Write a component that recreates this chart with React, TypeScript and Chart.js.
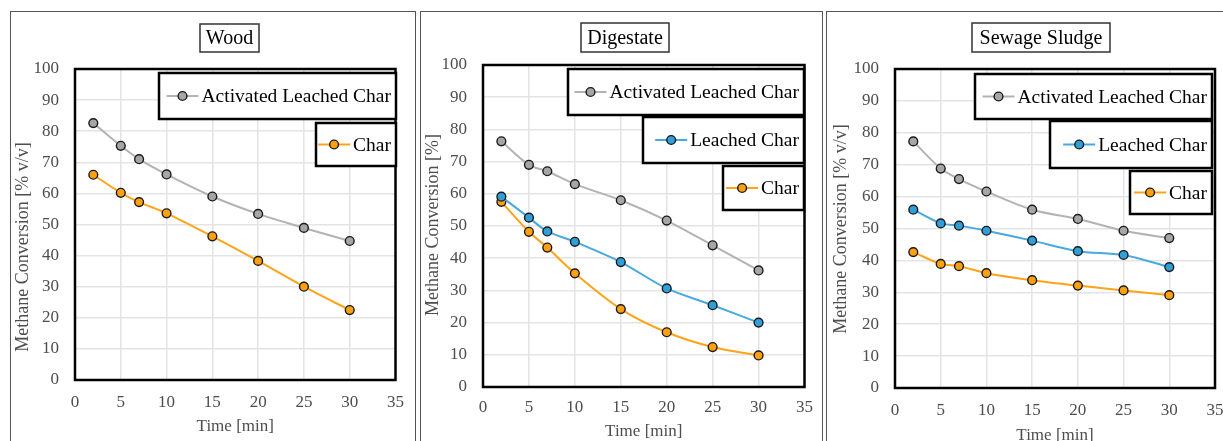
import React, { useEffect, useRef } from 'react';
import { Chart, registerables } from 'chart.js';

Chart.register(...registerables);

// ---------------- data ----------------
const timeMin = [2, 5, 7, 10, 15, 20, 25, 30];

const woodActivated = [82.6, 75.3, 71.0, 66.1, 59.0, 53.4, 48.9, 44.7];
const woodChar = [66.0, 60.2, 57.2, 53.6, 46.2, 38.3, 30.0, 22.5];

const digActivated = [76.3, 69.0, 67.0, 63.0, 58.0, 51.7, 44.0, 36.2];
const digLeached = [59.1, 52.6, 48.3, 45.1, 38.8, 30.6, 25.4, 20.0];
const digChar = [57.5, 48.2, 43.3, 35.3, 24.2, 17.0, 12.4, 9.8];

const sewActivated = [77.3, 68.8, 65.5, 61.6, 55.9, 53.0, 49.3, 47.0];
const sewLeached = [55.9, 51.6, 50.9, 49.3, 46.2, 42.9, 41.7, 37.9];
const sewChar = [42.6, 38.9, 38.2, 36.0, 33.8, 32.1, 30.6, 29.1];

const panelTitles = ['Wood', 'Digestate', 'Sewage Sludge'];
const seriesNames = ['Activated Leached Char', 'Leached Char', 'Char'];
const yTitles = ['Methane Conversion [% v/v]', 'Methane Conversion [%]', 'Methane Conversion [% v/v]'];
const xTitle = 'Time [min]';

// ---------------- styles ----------------
const FONT = "'Liberation Serif', 'Times New Roman', serif";
const seriesStyle = [
  { line: '#b3b3b3', fill: '#a6a6a6' },
  { line: '#46a9df', fill: '#2f9fd9' },
  { line: '#ffa318', fill: '#ffa010' },
];

type Box = [number, number, number, number];
interface PanelCfg {
  title: string;
  yTitle: string;
  series: { name: string; values: number[]; style: number }[];
  canvas: { left: number; top: number; w: number; h: number };
  plot: { l: number; r: number; t: number; b: number };
  titleBox: Box;
  legendBoxes: Box[];
  yTitleX: number;
  yTitleY: number;
  xTitleFromBottom: number;
  xTickPad: number;
}

const panels: PanelCfg[] = [
  {
    title: panelTitles[0],
    yTitle: yTitles[0],
    series: [
      { name: seriesNames[0], values: woodActivated, style: 0 },
      { name: seriesNames[2], values: woodChar, style: 2 },
    ],
    canvas: { left: 10, top: 11, w: 406, h: 439 },
    plot: { l: 75, r: 400, t: 69, b: 380 },
    titleBox: [200, 24, 259, 52],
    legendBoxes: [
      [159, 73, 396, 119],
      [316, 123, 396, 166],
    ],
    yTitleX: 23,
    yTitleY: 247,
    xTitleFromBottom: 23,
    xTickPad: 12,
  },
  {
    title: panelTitles[1],
    yTitle: yTitles[1],
    series: [
      { name: seriesNames[0], values: digActivated, style: 0 },
      { name: seriesNames[1], values: digLeached, style: 1 },
      { name: seriesNames[2], values: digChar, style: 2 },
    ],
    canvas: { left: 420, top: 11, w: 403, h: 439 },
    plot: { l: 483, r: 807, t: 65, b: 387 },
    titleBox: [581, 23, 669, 52],
    legendBoxes: [
      [568, 69, 804, 115],
      [643, 117, 804, 163],
      [723, 166, 804, 210],
    ],
    yTitleX: 433,
    yTitleY: 225,
    xTitleFromBottom: 18,
    xTickPad: 10,
  },
  {
    title: panelTitles[2],
    yTitle: yTitles[2],
    series: [
      { name: seriesNames[0], values: sewActivated, style: 0 },
      { name: seriesNames[1], values: sewLeached, style: 1 },
      { name: seriesNames[2], values: sewChar, style: 2 },
    ],
    canvas: { left: 826, top: 11, w: 410, h: 439 },
    plot: { l: 895, r: 1215, t: 69, b: 388 },
    titleBox: [972, 23, 1110, 52],
    legendBoxes: [
      [975, 74, 1212, 119],
      [1050, 121, 1212, 168],
      [1130, 171, 1212, 214],
    ],
    yTitleX: 841,
    yTitleY: 229,
    xTitleFromBottom: 14,
    xTickPad: 12,
  },
];

function Panel({ cfg }: { cfg: PanelCfg }) {
  const ref = useRef<HTMLCanvasElement | null>(null);

  useEffect(() => {
    if (!ref.current) return;
    const { canvas, plot } = cfg;
    const ox = canvas.left;
    const oy = canvas.top;

    const datasets = cfg.series.map((s) => ({
      label: s.name,
      data: timeMin.map((t, i) => ({ x: t, y: s.values[i] })),
      borderColor: seriesStyle[s.style].line,
      backgroundColor: seriesStyle[s.style].fill,
      pointBackgroundColor: seriesStyle[s.style].fill,
      pointBorderColor: '#1a1a1a',
      pointBorderWidth: 1.4,
      pointRadius: 4.4,
      borderWidth: 2,
      tension: 0.3,
      clip: false as any,
    }));

    const decor = {
      id: 'decor',
      afterDraw(chart: any) {
        const ctx = chart.ctx as CanvasRenderingContext2D;
        const ca = chart.chartArea;
        ctx.save();
        // plot border
        ctx.strokeStyle = '#000';
        ctx.lineWidth = 2.5;
        ctx.strokeRect(ca.left, ca.top, ca.right - ca.left, ca.bottom - ca.top);

        // y axis title
        ctx.save();
        ctx.translate(cfg.yTitleX - ox, cfg.yTitleY - oy);
        ctx.rotate(-Math.PI / 2);
        ctx.fillStyle = '#4d4d4d';
        ctx.font = `18px ${FONT}`;
        ctx.textAlign = 'center';
        ctx.textBaseline = 'middle';
        ctx.fillText(cfg.yTitle, 0, 0);
        ctx.restore();

        // title box
        const [tl, tt, tr, tb] = cfg.titleBox;
        ctx.fillStyle = '#fff';
        ctx.fillRect(tl - ox, tt - oy, tr - tl, tb - tt);
        ctx.strokeStyle = '#333';
        ctx.lineWidth = 1.5;
        ctx.strokeRect(tl - ox, tt - oy, tr - tl, tb - tt);
        ctx.fillStyle = '#000';
        ctx.font = `20px ${FONT}`;
        ctx.textAlign = 'center';
        ctx.textBaseline = 'middle';
        ctx.fillText(cfg.title, (tl + tr) / 2 - ox, (tt + tb) / 2 - oy + 1);

        // legend boxes
        cfg.legendBoxes.forEach((b, i) => {
          const s = cfg.series[i];
          const st = seriesStyle[s.style];
          const [l, t, r, bt] = b;
          const x0 = l - ox;
          const y0 = t - oy;
          const w = r - l;
          const h = bt - t;
          ctx.fillStyle = '#fff';
          ctx.fillRect(x0, y0, w, h);
          ctx.strokeStyle = '#000';
          ctx.lineWidth = 2.5;
          ctx.strokeRect(x0, y0, w, h);
          const cy = y0 + h / 2;
          ctx.font = `19.5px ${FONT}`;
          const tw = ctx.measureText(s.name).width;
          const textRight = x0 + w - 5;
          const textLeft = textRight - tw;
          const lineEnd = textLeft - 3;
          const lineStart = lineEnd - 32;
          ctx.strokeStyle = st.line;
          ctx.lineWidth = 2.2;
          ctx.beginPath();
          ctx.moveTo(lineStart, cy);
          ctx.lineTo(lineEnd, cy);
          ctx.stroke();
          ctx.beginPath();
          ctx.arc((lineStart + lineEnd) / 2, cy, 4.4, 0, Math.PI * 2);
          ctx.fillStyle = st.fill;
          ctx.fill();
          ctx.strokeStyle = '#1a1a1a';
          ctx.lineWidth = 1.4;
          ctx.stroke();
          ctx.fillStyle = '#000';
          ctx.textAlign = 'right';
          ctx.textBaseline = 'middle';
          ctx.fillText(s.name, textRight, cy + 1);
        });
        ctx.restore();
      },
    };

    const tickFont = { family: FONT, size: 17 };
    const chart = new Chart(ref.current, {
      type: 'line',
      data: { datasets } as any,
      options: {
        animation: false,
        responsive: false,
        devicePixelRatio: 1,
        layout: {
          padding: { left: 0, top: plot.t - oy, right: ox + canvas.w - plot.r, bottom: 0 },
        },
        plugins: {
          legend: { display: false },
          title: { display: false },
          tooltip: { enabled: false },
        },
        scales: {
          x: {
            type: 'linear',
            min: 0,
            max: 35,
            ticks: { stepSize: 5, color: '#4d4d4d', font: tickFont, padding: cfg.xTickPad },
            grid: { color: '#e4e4e4', lineWidth: 1.5, drawTicks: false },
            border: { display: false },
            title: {
              display: true,
              text: xTitle,
              color: '#4d4d4d',
              font: { family: FONT, size: 17 },
              padding: { top: 0, bottom: cfg.xTitleFromBottom - 10.2 },
            },
            afterFit(scale: any) {
              scale.height = oy + canvas.h - plot.b;
            },
          } as any,
          y: {
            type: 'linear',
            min: 0,
            max: 100,
            ticks: { stepSize: 10, color: '#4d4d4d', font: tickFont, padding: 16 },
            grid: { color: '#e4e4e4', lineWidth: 1.5, drawTicks: false },
            border: { display: false },
            afterFit(scale: any) {
              scale.width = plot.l - ox;
            },
          } as any,
        },
      },
      plugins: [decor],
    });
    return () => chart.destroy();
  }, [cfg]);

  return (
    <>
      <div
        style={{
          position: 'absolute',
          left: cfg.canvas.left,
          top: cfg.canvas.top,
          width: cfg.canvas.w,
          height: cfg.canvas.h + 20,
          border: '1px solid #555',
          boxSizing: 'border-box',
        }}
      />
      <canvas
        ref={ref}
        width={cfg.canvas.w}
        height={cfg.canvas.h}
        style={{
          position: 'absolute',
          left: cfg.canvas.left,
          top: cfg.canvas.top,
          width: cfg.canvas.w,
          height: cfg.canvas.h,
        }}
      />
    </>
  );
}

export default function App() {
  return (
    <div
      style={{
        position: 'absolute',
        left: 0,
        top: 0,
        width: 1223,
        height: 441,
        overflow: 'hidden',
        background: '#fff',
      }}
    >
      {panels.map((p, i) => (
        <Panel key={i} cfg={p} />
      ))}
    </div>
  );
}
